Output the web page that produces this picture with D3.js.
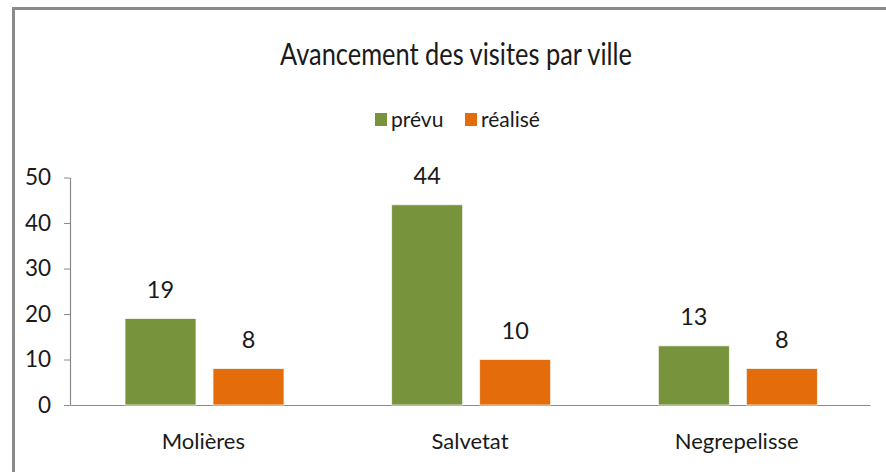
<!DOCTYPE html>
<html><head><meta charset="utf-8">
<script src="https://cdn.jsdelivr.net/npm/d3@7"></script>
<style>
html,body{margin:0;padding:0;background:#fff;}
svg{display:block;font-family:Lato,"Open Sans",sans-serif;}
</style></head>
<body>
<svg id="c" width="886" height="472"></svg>
<script>
const categories = ["Molières", "Salvetat", "Negrepelisse"];
const seriesNames = ["prévu", "réalisé"];
const prevu = [19, 44, 13];
const realise = [8, 10, 8];
const yTicks = [0, 10, 20, 30, 40, 50];
const title = "Avancement des visites par ville";

const colors = {"prévu": "#77933C", "réalisé": "#E46C0A"};
const values = {"prévu": prevu, "réalisé": realise};

const svg = d3.select("#c");
// outer frame
svg.append("path").attr("d", "M13.5,472 L13.5,8.5 L886,8.5")
  .attr("fill", "none").attr("stroke", "#8a8a8a").attr("stroke-width", 3);

const x0 = d3.scaleBand().domain(categories).range([70, 870]).paddingInner(0).paddingOuter(0);
const x1 = d3.scaleBand().domain(seriesNames).range([55, 214]).paddingInner(17/88).paddingOuter(0);
const y = d3.scaleLinear().domain([0, 50]).range([405, 177.5]);

// title
svg.append("text").attr("x", 456).attr("y", 65).attr("text-anchor", "middle")
  .attr("font-size", 31).attr("fill", "#1a1a1a")
  .attr("textLength", 352).attr("lengthAdjust", "spacingAndGlyphs").text(title);

// legend
const legX = {"prévu": 375, "réalisé": 465};
seriesNames.forEach(s => {
  svg.append("rect").attr("x", legX[s]).attr("y", 113).attr("width", 12).attr("height", 13).attr("fill", colors[s]);
  svg.append("text").attr("x", legX[s] + 16).attr("y", 127).attr("font-size", 21).attr("fill", "#1a1a1a").text(s);
});

// y axis
const yAxis = d3.axisLeft(y).tickValues(yTicks).tickSize(6).tickPadding(13).tickSizeOuter(0);
const gy = svg.append("g").attr("transform", "translate(70,0)").call(yAxis);
gy.select(".domain").attr("stroke", "#8a8a8a").attr("stroke-width", 1.2);
gy.selectAll(".tick line").attr("stroke", "#8a8a8a");
gy.selectAll(".tick text").attr("font-size", 22.5).attr("fill", "#1a1a1a").attr("font-family", "Lato,sans-serif");

// x axis
const xAxis = d3.axisBottom(x0).tickSize(0).tickPadding(28).tickSizeOuter(0);
const gx = svg.append("g").attr("transform", "translate(0,405)").call(xAxis);
gx.select(".domain").attr("stroke", "#8a8a8a").attr("stroke-width", 1.2);
gx.selectAll(".tick text").attr("font-size", 22).attr("fill", "#1a1a1a").attr("font-family", "Lato,sans-serif");

// bars
const groups = svg.append("g").selectAll("g").data(categories).join("g")
  .attr("transform", d => `translate(${x0(d)},0)`);
seriesNames.forEach(s => {
  groups.append("rect")
    .attr("x", x1(s)).attr("width", x1.bandwidth())
    .attr("y", (d, i) => y(values[s][i]))
    .attr("height", (d, i) => y(0) - y(values[s][i]))
    .attr("fill", colors[s]).attr("stroke", "#f4f4f0").attr("stroke-width", 0.8);
  groups.append("text")
    .attr("x", x1(s) + x1.bandwidth() / 2)
    .attr("y", (d, i) => y(values[s][i]) - 21)
    .attr("text-anchor", "middle").attr("font-size", 23.5).attr("fill", "#1a1a1a")
    .text((d, i) => values[s][i]);
});
</script>
</body></html>
